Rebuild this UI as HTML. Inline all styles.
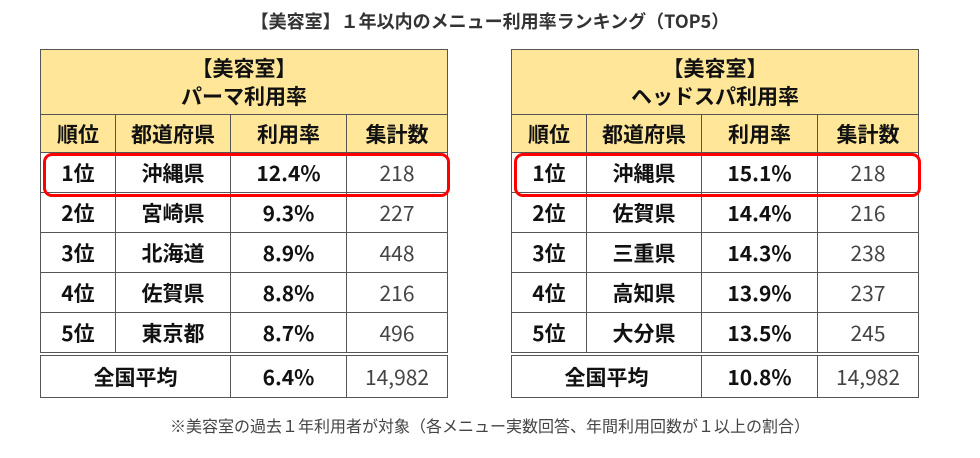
<!DOCTYPE html><html><head><meta charset="utf-8"><style>
body{margin:0;width:980px;height:458px;background:#fff;font-family:"Noto Sans CJK JP",sans-serif;position:relative;overflow:hidden}
.title{position:absolute;top:8px;left:0;width:980px;text-align:center;font-size:18px;font-weight:bold;color:#333;line-height:26px}
table{position:absolute;top:49px;border-collapse:collapse;width:407px;table-layout:fixed}
td{border:1.5px solid #555;text-align:center;font-size:21px;font-weight:bold;color:#111;padding:0;height:39px;line-height:24px;vertical-align:middle}
td.h{background:#FFE699;height:64px;line-height:28px;font-size:21px}
tr.ch td{background:#FFE699;height:37px}
td.n{font-weight:normal;color:#444}
tr.avg td{border-top:4px double #555;height:41px}
.red{position:absolute;top:153px;width:401px;height:38px;border:3px solid #f00;border-radius:9px}
.note{position:absolute;top:413px;left:0;width:980px;text-align:center;font-size:16px;color:#444;line-height:24px}
</style></head><body>
<div class="title">【美容室】１年以内のメニュー利用率ランキング（TOP5）</div>
<table style="left:40px">
<colgroup><col style="width:75px"><col style="width:115px"><col style="width:116px"><col style="width:101px"></colgroup>
<tr><td class="h" colspan="4">【美容室】<br>パーマ利用率</td></tr>
<tr class="ch"><td>順位</td><td>都道府県</td><td>利用率</td><td>集計数</td></tr>
<tr><td>1位</td><td>沖縄県</td><td>12.4%</td><td class="n">218</td></tr>
<tr><td>2位</td><td>宮崎県</td><td>9.3%</td><td class="n">227</td></tr>
<tr><td>3位</td><td>北海道</td><td>8.9%</td><td class="n">448</td></tr>
<tr><td>4位</td><td>佐賀県</td><td>8.8%</td><td class="n">216</td></tr>
<tr><td>5位</td><td>東京都</td><td>8.7%</td><td class="n">496</td></tr>
<tr class="avg"><td colspan="2">全国平均</td><td>6.4%</td><td class="n">14,982</td></tr>
</table>
<table style="left:511px">
<colgroup><col style="width:75px"><col style="width:115px"><col style="width:116px"><col style="width:101px"></colgroup>
<tr><td class="h" colspan="4">【美容室】<br>ヘッドスパ利用率</td></tr>
<tr class="ch"><td>順位</td><td>都道府県</td><td>利用率</td><td>集計数</td></tr>
<tr><td>1位</td><td>沖縄県</td><td>15.1%</td><td class="n">218</td></tr>
<tr><td>2位</td><td>佐賀県</td><td>14.4%</td><td class="n">216</td></tr>
<tr><td>3位</td><td>三重県</td><td>14.3%</td><td class="n">238</td></tr>
<tr><td>4位</td><td>高知県</td><td>13.9%</td><td class="n">237</td></tr>
<tr><td>5位</td><td>大分県</td><td>13.5%</td><td class="n">245</td></tr>
<tr class="avg"><td colspan="2">全国平均</td><td>10.8%</td><td class="n">14,982</td></tr>
</table>
<div class="red" style="left:43px"></div>
<div class="red" style="left:514px"></div>
<div class="note">※美容室の過去１年利用者が対象（各メニュー実数回答、年間利用回数が１以上の割合）</div>
</body></html>
